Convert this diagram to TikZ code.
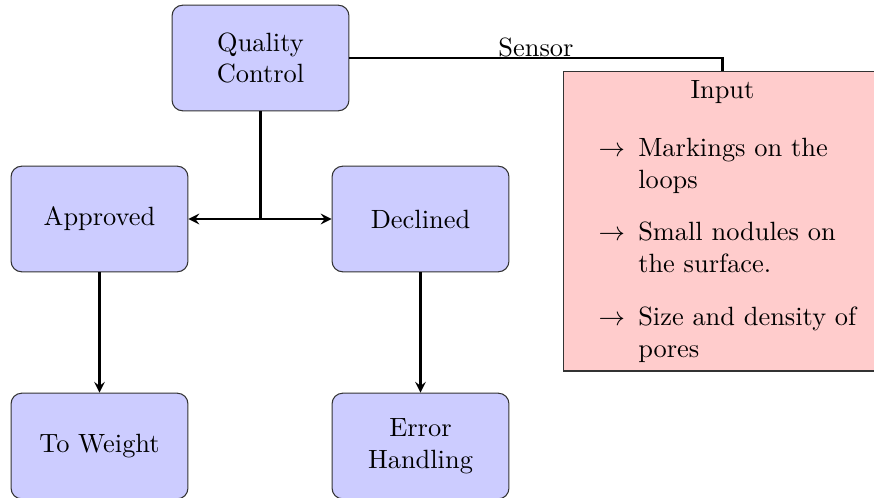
\documentclass[tikz,border=0pt]{standalone}
\begin{document}
\begin{tikzpicture}[x=0.3788pt,y=-0.3788pt,
  box/.style={draw=black!80, fill=blue!20, rounded corners=4pt, minimum width=67pt, minimum height=40pt, align=center, inner sep=0pt},
  inbox/.style={draw=black!80, fill=red!20, text width=4cm, anchor=north},
  conn/.style={thick},
  arr/.style={thick,-stealth}]
\useasboundingbox (0,0) rectangle (874,497);
\node[box] (qc) at (260.5,58) {Quality\\Control};
\node[box] (ap) at (99.5,219) {Approved};
\node[box] (de) at (420.5,219) {Declined};
\node[box] (tw) at (99.5,446) {To Weight};
\node[box] (eh) at (420.5,446) {Error\\Handling};
\node[inbox] (in) at (722.5,71) {\centering Input\par\raggedright
  \begin{itemize}
  \item[$\rightarrow$] Markings on the loops
  \item[$\rightarrow$] Small nodules on the surface.
  \item[$\rightarrow$] Size and density of pores
  \end{itemize}};
\draw[conn] (qc.east) -| node[pos=0.25, above, inner sep=0pt] (sl) {Sensor} (in.north);
\coordinate (j) at (qc.south |- ap.east);
\draw[conn] (qc.south) -- (j);
\draw[arr] (j) -- (ap.east);
\draw[arr] (j) -- (de.west);
\draw[arr] (ap.south) -- (tw.north);
\draw[arr] (de.south) -- (eh.north);
\end{tikzpicture}
\end{document}
